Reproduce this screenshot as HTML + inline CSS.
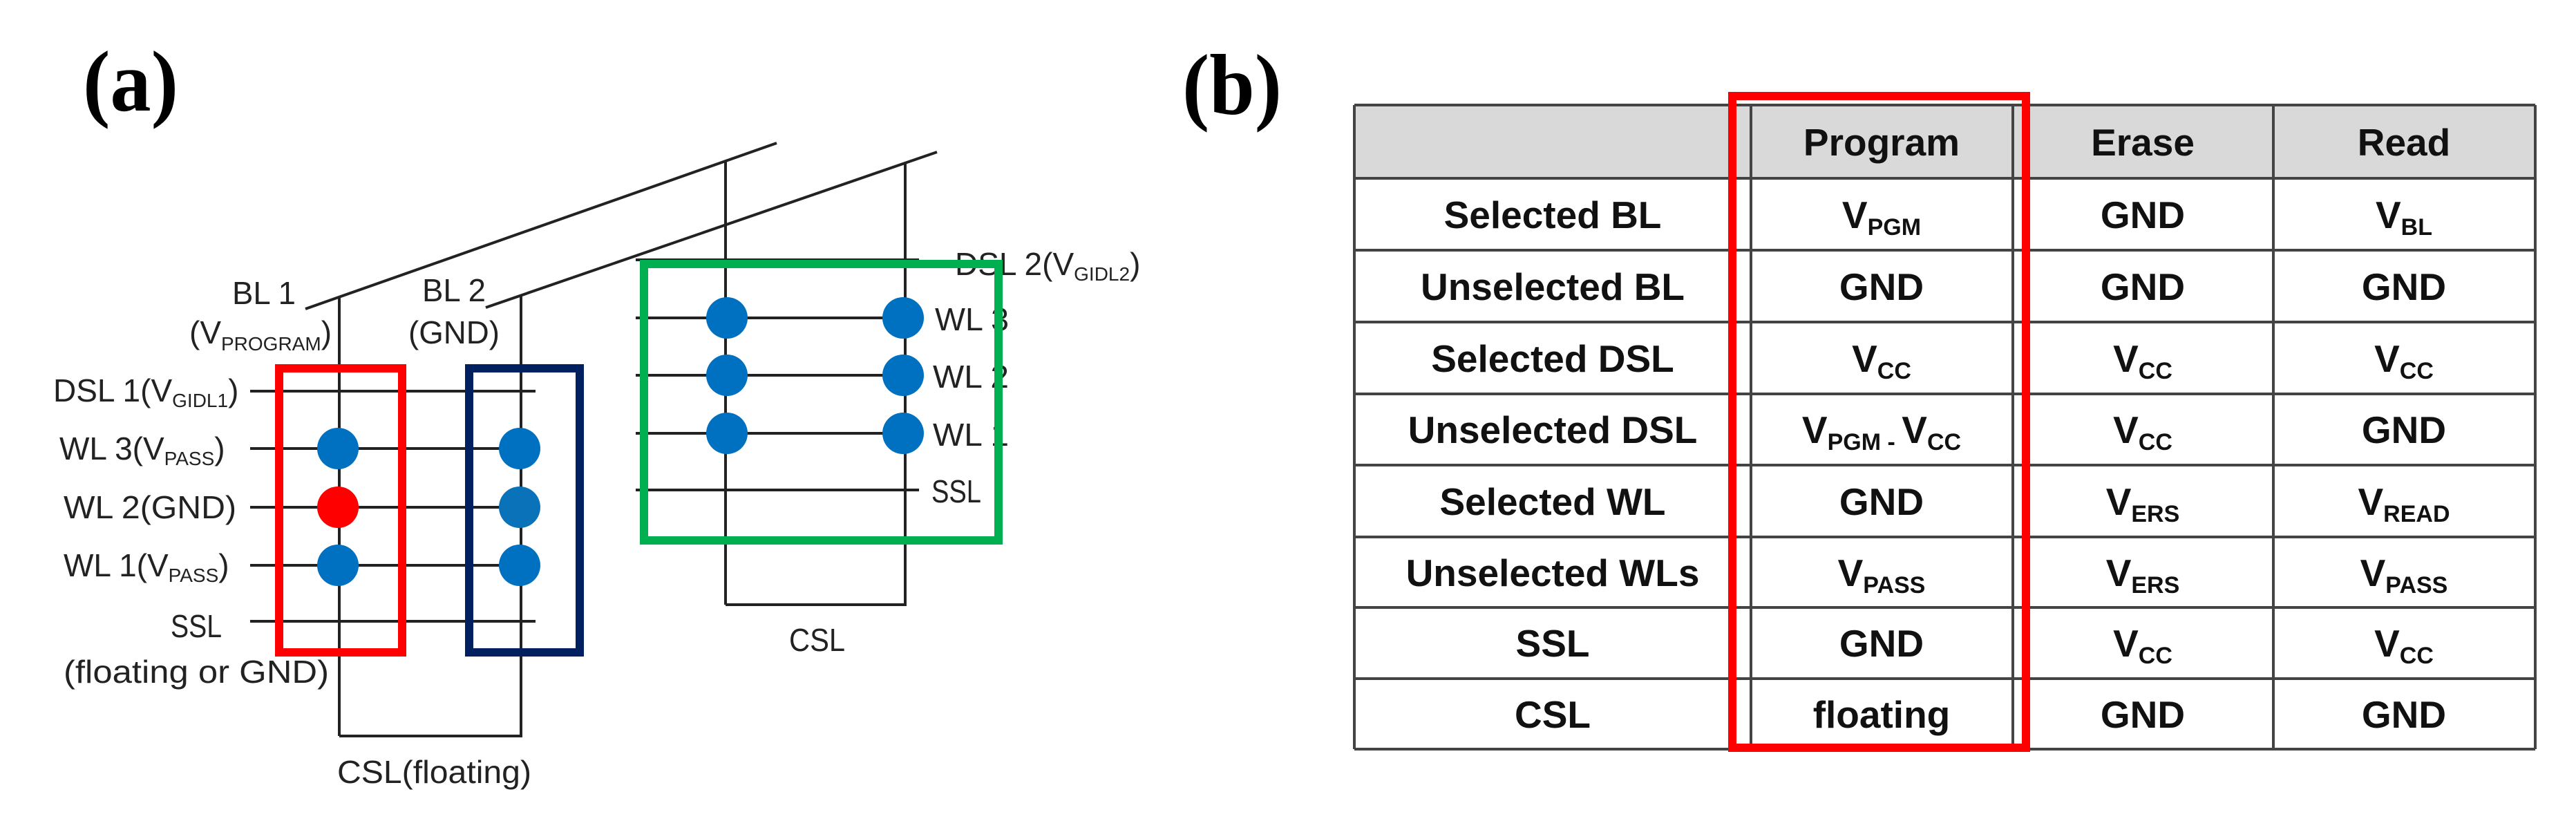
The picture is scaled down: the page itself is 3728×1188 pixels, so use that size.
<!DOCTYPE html>
<html><head><meta charset="utf-8"><style>
html,body{margin:0;padding:0;background:#fff;}
svg{display:block;}
.l{font-family:"Liberation Sans",sans-serif;font-size:46px;fill:#222;}
.t{font-family:"Liberation Sans",sans-serif;font-size:55px;font-weight:bold;fill:#111;text-anchor:middle;}
.s{font-size:34px;}
.ls{font-size:28px;}
</style></head><body>
<svg width="3728" height="1188" viewBox="0 0 3728 1188" xmlns="http://www.w3.org/2000/svg">
<rect width="3728" height="1188" fill="#fff"/>
<!-- labels a/b -->
<text x="120" y="160" font-family="Liberation Serif,serif" font-weight="bold" font-size="125" textLength="138" lengthAdjust="spacingAndGlyphs">(a)</text>
<text x="1711" y="165" font-family="Liberation Serif,serif" font-weight="bold" font-size="125" textLength="144" lengthAdjust="spacingAndGlyphs">(b)</text>

<g stroke="#222" stroke-width="4" fill="none">
 <line x1="442" y1="447" x2="1124" y2="207"/>
 <line x1="703" y1="445" x2="1356" y2="220"/>
 <!-- left strings -->
 <line x1="491" y1="431" x2="491" y2="1065"/>
 <line x1="754" y1="429" x2="754" y2="1065"/>
 <line x1="491" y1="1065" x2="756" y2="1065"/>
 <line x1="362" y1="566" x2="775" y2="566"/>
 <line x1="362" y1="649" x2="752" y2="649"/>
 <line x1="362" y1="734" x2="752" y2="734"/>
 <line x1="362" y1="818" x2="752" y2="818"/>
 <line x1="362" y1="899" x2="775" y2="899"/>
 <!-- right strings -->
 <line x1="1050" y1="232" x2="1050" y2="875"/>
 <line x1="1310" y1="237" x2="1310" y2="875"/>
 <line x1="1050" y1="875" x2="1312" y2="875"/>
 <line x1="920" y1="376" x2="1330" y2="376"/>
 <line x1="920" y1="460" x2="1307" y2="460"/>
 <line x1="920" y1="543" x2="1307" y2="543"/>
 <line x1="920" y1="627" x2="1307" y2="627"/>
 <line x1="920" y1="709" x2="1330" y2="709"/>
</g>
<g fill="#0070c0">
 <circle cx="489" cy="649" r="30"/>
 <circle cx="489" cy="818" r="30"/>
 <circle cx="752" cy="649" r="30"/>
 <circle cx="752" cy="734" r="30" fill="#0a72b8"/>
 <circle cx="752" cy="818" r="30"/>
 <circle cx="1052" cy="460" r="30"/>
 <circle cx="1052" cy="543" r="30"/>
 <circle cx="1052" cy="627" r="30"/>
 <circle cx="1307" cy="460" r="30"/>
 <circle cx="1307" cy="543" r="30"/>
 <circle cx="1307" cy="627" r="30"/>
</g>
<circle cx="489" cy="734" r="30" fill="#ff0000"/>

<!-- left labels -->
<text class="l" x="336" y="440" textLength="92" lengthAdjust="spacingAndGlyphs">BL 1</text>
<text class="l" x="274" y="497">(V<tspan class="ls" dy="10">PROGRAM</tspan><tspan dy="-10">)</tspan></text>
<text class="l" x="611" y="436" textLength="92" lengthAdjust="spacingAndGlyphs">BL 2</text>
<text class="l" x="591" y="497" textLength="132" lengthAdjust="spacingAndGlyphs">(GND)</text>
<text class="l" x="77" y="581">DSL 1(V<tspan class="ls" dy="8">GIDL1</tspan><tspan dy="-8">)</tspan></text>
<text class="l" x="86" y="665">WL 3(V<tspan class="ls" dy="8">PASS</tspan><tspan dy="-8">)</tspan></text>
<text class="l" x="92" y="750" textLength="250" lengthAdjust="spacingAndGlyphs">WL 2(GND)</text>
<text class="l" x="92" y="834">WL 1(V<tspan class="ls" dy="8">PASS</tspan><tspan dy="-8">)</tspan></text>
<text class="l" x="247" y="922" textLength="74" lengthAdjust="spacingAndGlyphs">SSL</text>
<text class="l" x="92" y="988" textLength="384" lengthAdjust="spacingAndGlyphs">(floating or GND)</text>
<text class="l" x="488" y="1133" textLength="281" lengthAdjust="spacingAndGlyphs">CSL(floating)</text>
<!-- right labels -->
<text class="l" x="1382" y="398">DSL 2(V<tspan class="ls" dy="8">GIDL2</tspan><tspan dy="-8">)</tspan></text>
<text class="l" x="1353" y="478" textLength="107" lengthAdjust="spacingAndGlyphs">WL 3</text>
<text class="l" x="1350" y="561" textLength="110" lengthAdjust="spacingAndGlyphs">WL 2</text>
<text class="l" x="1350" y="645" textLength="110" lengthAdjust="spacingAndGlyphs">WL 1</text>
<text class="l" x="1348" y="727" textLength="72" lengthAdjust="spacingAndGlyphs">SSL</text>
<text class="l" x="1142" y="942" textLength="81" lengthAdjust="spacingAndGlyphs">CSL</text>

<!-- highlight boxes -->
<rect x="404" y="533" width="178" height="411" fill="none" stroke="#ff0000" stroke-width="12"/>
<rect x="679" y="533" width="160" height="411" fill="none" stroke="#002060" stroke-width="12"/>
<rect x="932" y="382" width="513" height="400" fill="none" stroke="#00b050" stroke-width="12"/>

<!-- table -->
<rect x="1960" y="152" width="1709" height="106" fill="#d9d9d9"/>
<g stroke="#444" stroke-width="4">
 <line x1="1960" y1="152" x2="3669" y2="152"/>
 <line x1="1960" y1="258" x2="3669" y2="258"/>
 <line x1="1960" y1="362" x2="3669" y2="362"/>
 <line x1="1960" y1="466" x2="3669" y2="466"/>
 <line x1="1960" y1="570" x2="3669" y2="570"/>
 <line x1="1960" y1="673" x2="3669" y2="673"/>
 <line x1="1960" y1="777" x2="3669" y2="777"/>
 <line x1="1960" y1="879" x2="3669" y2="879"/>
 <line x1="1960" y1="982" x2="3669" y2="982"/>
 <line x1="1960" y1="1084" x2="3669" y2="1084"/>
 <line x1="1960" y1="152" x2="1960" y2="1084"/>
 <line x1="2534" y1="152" x2="2534" y2="1084"/>
 <line x1="2913" y1="152" x2="2913" y2="1084"/>
 <line x1="3290" y1="152" x2="3290" y2="1084"/>
 <line x1="3669" y1="152" x2="3669" y2="1084"/>
</g>
<g class="t">
 <text class="t" x="2723" y="225">Program</text>
 <text class="t" x="3101" y="225">Erase</text>
 <text class="t" x="3479" y="225">Read</text>

 <text class="t" x="2247" y="330">Selected BL</text>
 <text class="t" x="2247" y="434">Unselected BL</text>
 <text class="t" x="2247" y="538">Selected DSL</text>
 <text class="t" x="2247" y="641">Unselected DSL</text>
 <text class="t" x="2247" y="745">Selected WL</text>
 <text class="t" x="2247" y="848">Unselected WLs</text>
 <text class="t" x="2247" y="950">SSL</text>
 <text class="t" x="2247" y="1053">CSL</text>

 <text class="t" x="2723" y="330">V<tspan class="s" dy="10">PGM</tspan></text>
 <text class="t" x="2723" y="434">GND</text>
 <text class="t" x="2723" y="538">V<tspan class="s" dy="10">CC</tspan></text>
 <text class="t" x="2723" y="641">V<tspan class="s" dy="10">PGM - </tspan><tspan dy="-10">V</tspan><tspan class="s" dy="10">CC</tspan></text>
 <text class="t" x="2723" y="745">GND</text>
 <text class="t" x="2723" y="848">V<tspan class="s" dy="10">PASS</tspan></text>
 <text class="t" x="2723" y="950">GND</text>
 <text class="t" x="2723" y="1053">floating</text>

 <text class="t" x="3101" y="330">GND</text>
 <text class="t" x="3101" y="434">GND</text>
 <text class="t" x="3101" y="538">V<tspan class="s" dy="10">CC</tspan></text>
 <text class="t" x="3101" y="641">V<tspan class="s" dy="10">CC</tspan></text>
 <text class="t" x="3101" y="745">V<tspan class="s" dy="10">ERS</tspan></text>
 <text class="t" x="3101" y="848">V<tspan class="s" dy="10">ERS</tspan></text>
 <text class="t" x="3101" y="950">V<tspan class="s" dy="10">CC</tspan></text>
 <text class="t" x="3101" y="1053">GND</text>

 <text class="t" x="3479" y="330">V<tspan class="s" dy="10">BL</tspan></text>
 <text class="t" x="3479" y="434">GND</text>
 <text class="t" x="3479" y="538">V<tspan class="s" dy="10">CC</tspan></text>
 <text class="t" x="3479" y="641">GND</text>
 <text class="t" x="3479" y="745">V<tspan class="s" dy="10">READ</tspan></text>
 <text class="t" x="3479" y="848">V<tspan class="s" dy="10">PASS</tspan></text>
 <text class="t" x="3479" y="950">V<tspan class="s" dy="10">CC</tspan></text>
 <text class="t" x="3479" y="1053">GND</text>
</g>
<rect x="2507" y="139" width="425" height="943" fill="none" stroke="#ff0000" stroke-width="12"/>
</svg>
</body></html>
